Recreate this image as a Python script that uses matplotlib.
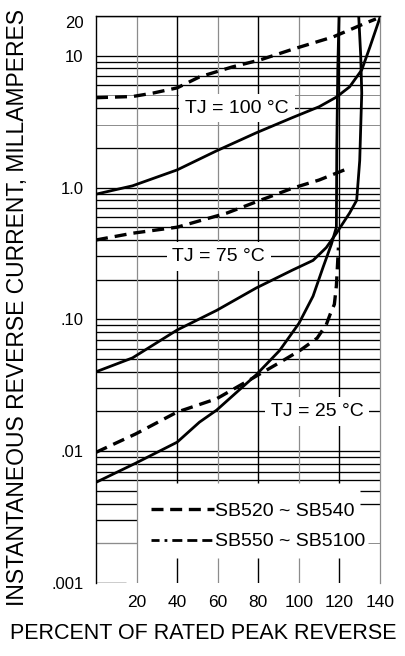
#!/usr/bin/env python3

import matplotlib
matplotlib.use("Agg")
import matplotlib.pyplot as plt
from matplotlib.lines import Line2D

plt.rcParams["font.family"] = ["Liberation Sans", "DejaVu Sans"]

# percent of rated peak reverse voltage vs reverse current (mA)
tj100_dash_x = [0, 18, 28, 40, 51, 67, 81, 97, 117, 133, 138]
tj100_dash_y = [4.8, 4.9, 5.2, 5.7, 6.9, 8.2, 9.3, 11.2, 13.9, 17.7, 19.0]

tj100_solid_x = [0, 18, 40, 59.5, 79, 97, 110, 118.5, 125, 131, 135, 140]
tj100_solid_y = [0.89, 1.03, 1.36, 1.9, 2.6, 3.4, 4.1, 4.85, 5.8, 7.8, 11.6, 19.5]

tj75_dash_x = [0, 18, 40, 64.5, 81, 97, 110, 125]
tj75_dash_y = [0.40, 0.45, 0.50, 0.64, 0.80, 0.99, 1.14, 1.41]

tj75_solid_x = [0, 18, 40, 59.5, 79, 97, 107, 113.5, 118.5, 125, 128.5, 130, 131, 130.5, 129.5]
tj75_solid_y = [0.040, 0.051, 0.083, 0.117, 0.173, 0.237, 0.28, 0.35, 0.45, 0.64, 0.80, 1.6, 5.2, 10, 20]

tj25_dash_x = [0, 19.5, 40, 59.5, 77.5, 90.5, 100.5, 109, 113.5, 115.5, 117.5, 118.5, 119, 119.5]
tj25_dash_y = [0.0098, 0.0135, 0.0198, 0.025, 0.036, 0.047, 0.058, 0.072, 0.091, 0.11, 0.13, 0.18, 0.25, 0.35]

tj25_solid_x = [0, 19.5, 40, 51, 59.5, 79, 90.5, 100, 107, 112, 116, 118.5, 118.7, 119.2, 119.8]
tj25_solid_y = [0.0058, 0.0081, 0.0117, 0.0166, 0.0205, 0.038, 0.058, 0.093, 0.15, 0.25, 0.37, 0.5, 2, 8, 20]

x_ticks = [20, 40, 60, 80, 100, 120, 140]
y_ticks = [0.001, 0.01, 0.1, 1, 10, 20]
y_tick_labels = [".001", ".01", ".10", "1.0", "10", "20"]

temp_labels = ["TJ = 100 °C", "TJ = 75 °C", "TJ = 25 °C"]
temp_label_x = [69.5, 60.5, 109]
temp_label_y = [4, 0.3, 0.02]

legend_labels = ["SB520 ~ SB540", "SB550 ~ SB5100"]

DASH = (3.6, 2.1)
GRAY = "#8c8c8c"


def draw_grid(ax):
    # horizontal log grid, 1..9 per decade
    for d in [0.001, 0.01, 0.1, 1, 10]:
        for m in range(1, 10):
            v = round(m * d, 6)
            if v > 20:
                continue
            color = GRAY if v in (3, 5) else "black"
            lw = 0.7 if color == GRAY else 0.95
            if v >= 0.0059:
                ax.hlines(v, 0, 140, color=color, lw=lw, zorder=1)
            elif v > 0.0011:
                c = GRAY if v == 0.002 else color
                ax.hlines(v, 0, 20, color=c, lw=lw, zorder=1)
                if v >= 0.0039:
                    ax.hlines(v, 130, 140, color=color, lw=lw, zorder=1)
                elif v == 0.002:
                    ax.hlines(v, 134, 140, color=GRAY, lw=0.7, zorder=1)
    ax.hlines(0.001, 0, 15, color="black", lw=1.0, zorder=1)

    # vertical lines every 20 %
    ax.vlines(20, 0.001, 20, color=GRAY, lw=0.9, zorder=1)
    for xv in [40, 60, 80, 100, 120]:
        color = GRAY if xv in (60, 100) else "black"
        lw = 0.9 if color == GRAY else 1.0
        ax.vlines(xv, 0.0057, 20, color=color, lw=lw, zorder=1)
        ax.vlines(xv, 0.001, 0.00155, color=color, lw=lw, zorder=1)


def main():
    fig = plt.figure(figsize=(4.06, 6.56), dpi=100)
    ax = fig.add_axes([96 / 406, 73 / 656, 284 / 406, 567 / 656])

    ax.set_yscale("log")
    ax.set_xlim(0, 140)
    ax.set_ylim(0.001, 20)

    draw_grid(ax)

    ax.plot(tj100_dash_x, tj100_dash_y, color="black", lw=2.4, dashes=DASH, zorder=4)
    ax.plot(tj100_solid_x, tj100_solid_y, color="black", lw=2.0, zorder=4)
    ax.plot(tj75_dash_x, tj75_dash_y, color="black", lw=2.4, dashes=DASH, zorder=4)
    ax.plot(tj75_solid_x, tj75_solid_y, color="black", lw=2.0, zorder=4)
    ax.plot(tj25_dash_x, tj25_dash_y, color="black", lw=2.4, dashes=DASH, zorder=4)
    ax.plot(tj25_solid_x, tj25_solid_y, color="black", lw=2.0, zorder=4)

    for label, tx, ty in zip(temp_labels, temp_label_x, temp_label_y):
        ax.text(tx, ty, label, ha="center", va="center", fontsize=14,
                bbox=dict(facecolor="white", edgecolor="none",
                          boxstyle="square,pad=0.3"),
                zorder=3)

    handles = [
        Line2D([], [], color="black", lw=2.4, dashes=(3.6, 2.0)),
        Line2D([], [], color="black", lw=2.0,
               dashes=(2.9, 1.8, 1.0, 1.8, 3.6, 1.8, 3.6, 1.8, 3.6, 1.8)),
    ]
    leg = ax.legend(handles, legend_labels, loc="upper left",
                    bbox_to_anchor=(0.195, 0.142), frameon=False,
                    handlelength=3.2, handletextpad=0.05, borderpad=0,
                    borderaxespad=0, labelspacing=0.65, fontsize=14)
    leg.set_zorder(5)

    ax.spines["bottom"].set_visible(False)
    ax.spines["left"].set_linewidth(1.0)
    ax.spines["top"].set_linewidth(1.0)
    ax.spines["right"].set_color(GRAY)
    ax.spines["right"].set_linewidth(0.9)

    ax.set_xticks(x_ticks)
    ax.set_xticklabels([str(v) for v in x_ticks], fontsize=12.5)
    ax.set_yticks(y_ticks)
    ax.set_yticklabels(y_tick_labels, fontsize=12)
    ax.minorticks_off()
    ax.tick_params(axis="x", length=0, pad=8.5)
    ax.tick_params(axis="y", length=0, pad=9)
    # top label sits just under the top border
    ax.get_yticklabels()[-1].set_verticalalignment("top")

    fig.text(0.5, 0.034, "PERCENT OF RATED PEAK REVERSE",
             ha="center", va="center", fontsize=15.5)
    fig.text(0.043, 0.531, "INSTANTANEOUS REVERSE CURRENT, MILLAMPERES",
             ha="center", va="center", rotation=90, fontsize=16.5)

    fig.savefig("out.png", dpi=100)
    plt.close(fig)


if __name__ == "__main__":
    main()
